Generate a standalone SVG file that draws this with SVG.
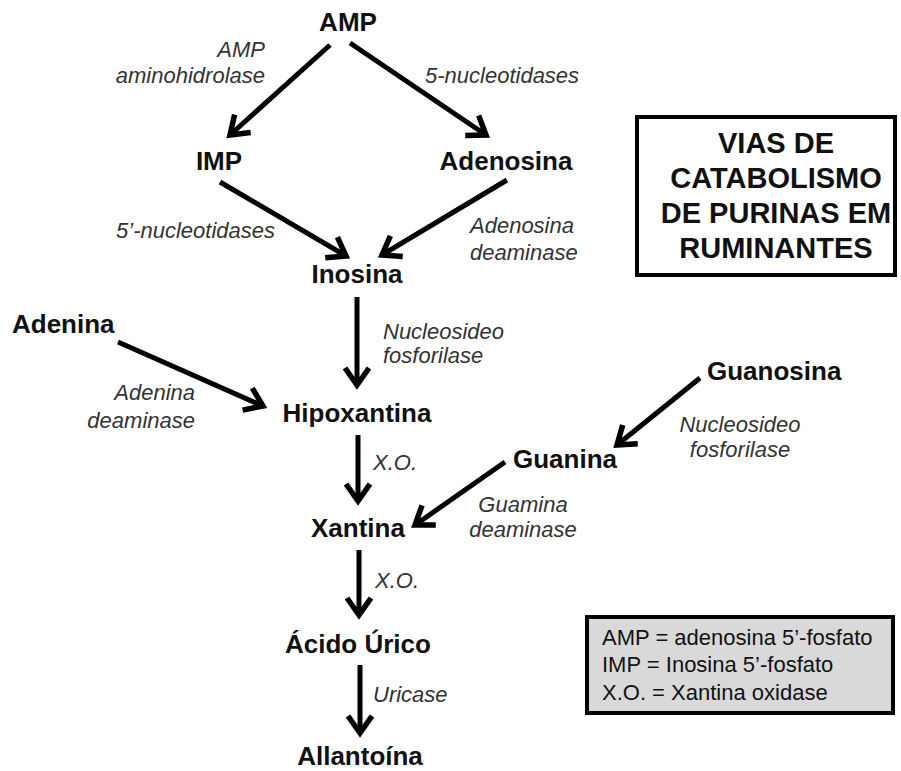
<svg xmlns="http://www.w3.org/2000/svg" width="901" height="771" viewBox="0 0 901 771">
<defs>
<marker id="ah" markerUnits="userSpaceOnUse" viewBox="-24 -16 28 32" markerWidth="28" markerHeight="32" refX="0" refY="0" orient="auto" overflow="visible">
<path d="M -17 -12 L 0 0 L -17 12" fill="none" stroke="#000" stroke-width="5.5" stroke-linejoin="miter"/>
</marker>
<style>
.n{font-family:"Liberation Sans",Arial,sans-serif;font-weight:bold;font-size:26px;fill:#111;}
.e{font-family:"Liberation Sans",Arial,sans-serif;font-style:italic;font-size:22px;fill:#333;}
.t{font-family:"Liberation Sans",Arial,sans-serif;font-weight:bold;font-size:29px;fill:#111;text-anchor:middle;}
.g{font-family:"Liberation Sans",Arial,sans-serif;font-size:22px;fill:#111;}
.c{stroke:#000;stroke-width:5;fill:none;marker-end:url(#ah);}
</style>
</defs>
<g id="connectors">
<line class="c" x1="330" y1="45" x2="230" y2="135"/>
<line class="c" x1="350" y1="43" x2="486" y2="135"/>
<line class="c" x1="220" y1="182" x2="346" y2="256"/>
<line class="c" x1="507" y1="180" x2="382" y2="255"/>
<line class="c" x1="357" y1="297" x2="357" y2="385"/>
<line class="c" x1="118" y1="342" x2="263" y2="406"/>
<line class="c" x1="358" y1="435" x2="358" y2="501"/>
<line class="c" x1="700" y1="378" x2="617" y2="445"/>
<line class="c" x1="505" y1="462" x2="415" y2="525"/>
<line class="c" x1="359" y1="550" x2="359" y2="615"/>
<line class="c" x1="360" y1="665" x2="360" y2="733"/>
</g>
<g id="edge-labels">
<text class="e" x="265" y="57" text-anchor="end">AMP</text>
<text class="e" x="265" y="83" text-anchor="end">aminohidrolase</text>
<text class="e" x="425" y="83">5-nucleotidases</text>
<text class="e" x="275" y="238" text-anchor="end">5’-nucleotidases</text>
<text class="e" x="470" y="233">Adenosina</text>
<text class="e" x="470" y="260">deaminase</text>
<text class="e" x="383" y="339">Nucleosideo</text>
<text class="e" x="383" y="363">fosforilase</text>
<text class="e" x="195" y="400" text-anchor="end">Adenina</text>
<text class="e" x="195" y="428" text-anchor="end">deaminase</text>
<text class="e" x="373" y="470">X.O.</text>
<text class="e" x="740" y="432" text-anchor="middle">Nucleosideo</text>
<text class="e" x="740" y="457" text-anchor="middle">fosforilase</text>
<text class="e" x="523" y="512" text-anchor="middle">Guamina</text>
<text class="e" x="523" y="537" text-anchor="middle">deaminase</text>
<text class="e" x="375" y="588">X.O.</text>
<text class="e" x="373" y="702">Uricase</text>
</g>
<g id="AMP"><text class="n" x="348" y="31" text-anchor="middle">AMP</text></g>
<g id="IMP"><text class="n" x="219" y="170" text-anchor="middle">IMP</text></g>
<g id="Adenosina"><text class="n" x="506" y="170" text-anchor="middle">Adenosina</text></g>
<g id="Inosina"><text class="n" x="357" y="283" text-anchor="middle">Inosina</text></g>
<g id="Adenina"><text class="n" x="12" y="333">Adenina</text></g>
<g id="Hipoxantina"><text class="n" x="357" y="422" text-anchor="middle">Hipoxantina</text></g>
<g id="Guanosina"><text class="n" x="707" y="380">Guanosina</text></g>
<g id="Guanina"><text class="n" x="565" y="468" text-anchor="middle">Guanina</text></g>
<g id="Xantina"><text class="n" x="358" y="537" text-anchor="middle">Xantina</text></g>
<g id="AcidoUrico"><text class="n" x="358" y="653" text-anchor="middle">Ácido Úrico</text></g>
<g id="Allantoina"><text class="n" x="360" y="765" text-anchor="middle">Allantoína</text></g>
<g id="title">
<rect x="637" y="117" width="258" height="158" fill="#fff" stroke="#000" stroke-width="4"/>
<text class="t" x="776" y="153">VIAS DE</text>
<text class="t" x="776" y="188">CATABOLISMO</text>
<text class="t" x="776" y="223">DE PURINAS EM</text>
<text class="t" x="776" y="258">RUMINANTES</text>
</g>
<g id="legend">
<rect x="587" y="617" width="306" height="96" fill="#d9d9d9" stroke="#000" stroke-width="4"/>
<text class="g" x="602" y="645">AMP = adenosina 5’-fosfato</text>
<text class="g" x="602" y="672">IMP = Inosina 5’-fosfato</text>
<text class="g" x="602" y="700">X.O. = Xantina oxidase</text>
</g>
</svg>
